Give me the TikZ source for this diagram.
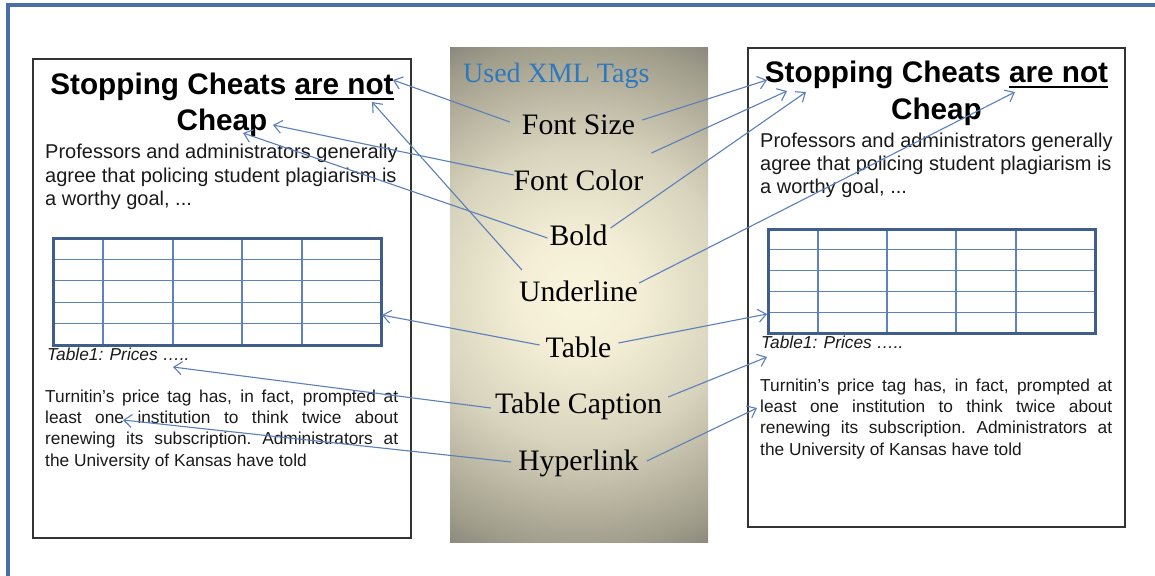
\documentclass[tikz,border=0pt]{standalone}
\usepackage{fontspec}
\setmainfont{Liberation Sans}
\newfontfamily\labelfont{Liberation Serif}
\usetikzlibrary{arrows.meta,calc}
\definecolor{framebl}{HTML}{4A6FA5}
\definecolor{arrbl}{HTML}{5B7FBA}
\definecolor{gridbl}{HTML}{5B83C0}
\definecolor{tabborder}{HTML}{3F5E8C}
\definecolor{xmlblue}{HTML}{2E78C0}
\definecolor{txt}{HTML}{1A1A1A}
\definecolor{creama}{HTML}{F9F4DC}
\definecolor{creamb}{HTML}{F3EED5}
\definecolor{khakia}{HTML}{D8D3BC}
\definecolor{khakib}{HTML}{A09D8B}
\definecolor{khakic}{HTML}{848379}
\pgfdeclareradialshading{panelshade}{\pgfpoint{0bp}{0bp}}{color(0bp)=(creama); color(5bp)=(creamb); color(12.5bp)=(khakia); color(21bp)=(khakib); color(24bp)=(khakic); color(50bp)=(khakic)}
\newcommand\myul[1]{\setbox0\hbox{#1}\rlap{\rule[-5pt]{\wd0}{2.4pt}}\box0}
\tikzset{
  page/.style={draw=black!80, line width=1.4pt, fill=white, inner sep=0pt, outer sep=0pt, anchor=north west},
  titletext/.style={font=\bfseries\fontsize{29.7}{34}\selectfont, text=black, inner sep=0pt, anchor=base},
  bodytext/.style={font=\fontsize{20}{24}\selectfont, text=txt, inner sep=0pt, anchor=base west},
  smalltext/.style={font=\fontsize{17.3}{21}\selectfont, text=txt, inner sep=0pt, anchor=base west},
  captext/.style={font=\itshape\fontsize{17.3}{21}\selectfont, text=txt, inner sep=0pt, anchor=base west},
  tag/.style={font=\labelfont\fontsize{29.7}{34}\selectfont, text=black, inner sep=0pt, anchor=base},
  gridline/.style={draw=gridbl, line width=1.3pt},
  tabframe/.style={draw=tabborder, line width=3pt},
  arr/.style={draw=arrbl, line width=1.1pt, -{Straight Barb[length=8pt,width=13pt]}}
}
\begin{document}
\begin{tikzpicture}[x=1pt,y=-1pt]
\useasboundingbox (0,0) rectangle (1155,575);
% outer frame
\draw[draw=framebl, line width=3.4pt] (8,580) -- (8,5) -- (1160,5);
% pages
\node[page, minimum width=378pt, minimum height=479pt] (pageL) at (33,59) {};
\node[page, minimum width=377pt, minimum height=479pt] (pageR) at (748,48) {};
% middle panel
\begin{scope}
  \clip (450,48) rectangle (708,542);
  \shade[shading=panelshade] (279,-5) rectangle (879,595);
\end{scope}
% left page text
\node[titletext] (tl1) at (222,95) {Stopping Cheats \myul{are not}};
\node[titletext] (tl2) at (222,130) {Cheap};
\node[bodytext] (lb1) at (45,158) {Professors and administrators generally};
\node[bodytext] (lb2) at (45,182) {agree that policing student plagiarism is};
\node[bodytext] (lb3) at (45,205) {a worthy goal, ...};
\node[captext] (lcap) at (47,360) {Table1: Prices …..};
\node[smalltext] (lt1) at (45,402) {\makebox[353pt][s]{Turnitin’s price tag has, in fact, prompted at}};
\node[smalltext] (lt2) at (45,423.3) {\makebox[353pt][s]{least one institution to think twice about}};
\node[smalltext] (lt3) at (45,444.6) {\makebox[353pt][s]{\frenchspacing renewing its subscription. Administrators at}};
\node[smalltext] (lt4) at (45,466) {the University of Kansas have told};
% left table
\foreach \y in {259.4,280.8,302.2,323.6} \draw[gridline] (53,\y) -- (381,\y);
\foreach \x in {103,173,242,302} \draw[gridline] (\x,238) -- (\x,345);
\draw[tabframe] (53,238) rectangle (381,345);
% right page text
\node[titletext] (tr1) at (936.5,83) {Stopping Cheats \myul{are not}};
\node[titletext] (tr2) at (936.5,120) {Cheap};
\node[bodytext] (rb1) at (760,147) {Professors and administrators generally};
\node[bodytext] (rb2) at (760,170) {agree that policing student plagiarism is};
\node[bodytext] (rb3) at (760,193) {a worthy goal, ...};
\node[captext] (rcap) at (761,348) {Table1: Prices …..};
\node[smalltext] (rt1) at (760,391) {\makebox[352pt][s]{Turnitin’s price tag has, in fact, prompted at}};
\node[smalltext] (rt2) at (760,412) {\makebox[352pt][s]{least one institution to think twice about}};
\node[smalltext] (rt3) at (760,433) {\makebox[352pt][s]{\frenchspacing renewing its subscription. Administrators at}};
\node[smalltext] (rt4) at (760,455) {the University of Kansas have told};
% right table
\foreach \y in {249.8,270.6,291.4,312.2} \draw[gridline] (768,\y) -- (1095,\y);
\foreach \x in {818,887,956,1016} \draw[gridline] (\x,229) -- (\x,333);
\draw[tabframe] (768,229) rectangle (1095,333);
% middle labels
\node[font=\labelfont\fontsize{28}{32}\selectfont, text=xmlblue, inner sep=0pt, anchor=base west] (head) at (463,83) {Used XML Tags};
\node[tag] (fs) at (578.5,134) {Font Size};
\node[tag] (fc) at (578.5,190) {Font Color};
\node[tag] (bo) at (578.5,245) {Bold};
\node[tag] (ul) at (578.5,301) {Underline};
\node[tag] (tb) at (578.5,357) {Table};
\node[tag] (tc) at (578.5,413) {Table Caption};
\node[tag] (hl) at (578.5,470) {Hyperlink};
% targets
\coordinate (tFS) at (393,80);
\coordinate (tUL) at (372,102);
\coordinate (tFC) at (273,125);
\coordinate (tBO) at (243,133);
\coordinate (tTB) at (382,315);
\coordinate (tTC) at (173,367);
\coordinate (tHL) at (123,420);
\coordinate (rFS) at (767,80);
\coordinate (rFC) at (787,91);
\coordinate (rBO) at (806,92);
\coordinate (rUL) at (1015,92);
\coordinate (rTB) at (767,314);
\coordinate (rTC) at (767,357);
\coordinate (rHL) at (757,408);
% arrows left
\draw[arr] ($(fs.base west)+(-12,-12)$) -- (tFS);
\draw[arr] ($(fc.base west)+(0,-15)$) -- (tFC);
\draw[arr] ($(bo.base west)+(-2,-7)$) -- (tBO);
\draw[arr] ($(ul.base west)+(3,-31)$) -- (tUL);
\draw[arr] ($(tb.base west)+(-6,-12)$) -- (tTB);
\draw[arr] ($(tc.base west)+(-4,-5)$) -- (tTC);
\draw[arr] ($(hl.base west)+(-7,-8)$) -- (tHL);
% arrows right
\draw[arr] ($(fs.base east)+(7,-14)$) -- (rFS);
\draw[arr] ($(fc.base east)+(8,-37)$) -- (rFC);
\draw[arr] ($(bo.base east)+(3,-17)$) -- (rBO);
\draw[arr] ($(ul.base east)+(1,-18)$) -- (rUL);
\draw[arr] ($(tb.base east)+(7,-14)$) -- (rTB);
\draw[arr] ($(tc.base east)+(6,-16)$) -- (rTC);
\draw[arr] ($(hl.base east)+(8,-9)$) -- (rHL);
\end{tikzpicture}
\end{document}
